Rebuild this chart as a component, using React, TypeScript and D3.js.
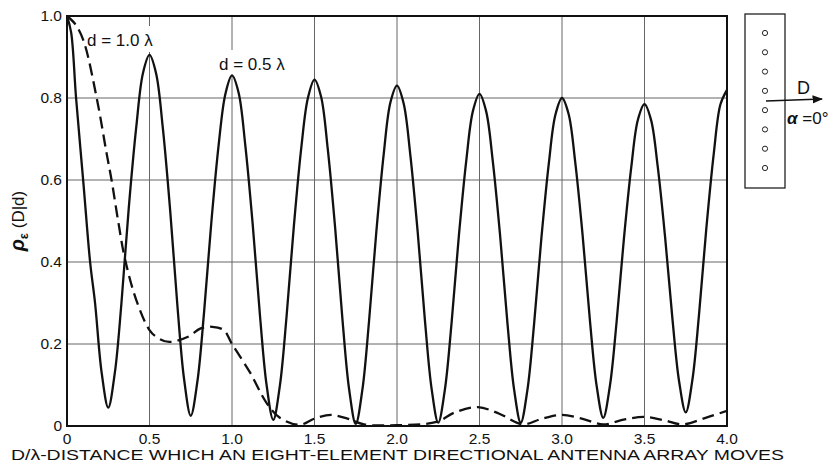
import React from 'react';
import * as d3 from 'd3';

// D/lambda positions and rho values
const solidD = [
  0, 0.025, 0.055, 0.1, 0.14, 0.17, 0.21, 0.25,
  0.29, 0.33, 0.375, 0.42, 0.46, 0.5,
  0.54, 0.58, 0.625, 0.67, 0.71, 0.75,
  0.79, 0.83, 0.875, 0.92, 0.96, 1.0,
  1.04, 1.08, 1.125, 1.17, 1.21, 1.25,
  1.29, 1.33, 1.375, 1.42, 1.46, 1.5,
  1.54, 1.58, 1.625, 1.67, 1.71, 1.75,
  1.79, 1.83, 1.875, 1.92, 1.96, 2.0,
  2.04, 2.08, 2.125, 2.17, 2.21, 2.25,
  2.29, 2.33, 2.375, 2.42, 2.46, 2.5,
  2.54, 2.58, 2.625, 2.67, 2.71, 2.75,
  2.79, 2.83, 2.875, 2.92, 2.96, 3.0,
  3.04, 3.08, 3.125, 3.17, 3.21, 3.25,
  3.29, 3.33, 3.375, 3.42, 3.46, 3.5,
  3.54, 3.58, 3.625, 3.67, 3.71, 3.75,
  3.79, 3.83, 3.875, 3.92, 3.96, 4.0,
];
const solidRho = [
  1.0, 0.96, 0.8, 0.59, 0.4, 0.3, 0.13, 0.045,
  0.13, 0.3, 0.535, 0.73, 0.86, 0.905,
  0.86, 0.73, 0.527, 0.289, 0.113, 0.025,
  0.108, 0.274, 0.498, 0.689, 0.81, 0.855,
  0.813, 0.687, 0.494, 0.267, 0.099, 0.015,
  0.098, 0.264, 0.488, 0.679, 0.8, 0.845,
  0.803, 0.677, 0.484, 0.257, 0.089, 0.005,
  0.088, 0.253, 0.475, 0.665, 0.789, 0.83,
  0.787, 0.664, 0.475, 0.254, 0.09, 0.008,
  0.088, 0.248, 0.464, 0.648, 0.768, 0.81,
  0.768, 0.648, 0.464, 0.248, 0.088, 0.008,
  0.087, 0.245, 0.458, 0.64, 0.759, 0.8,
  0.761, 0.644, 0.465, 0.254, 0.098, 0.02,
  0.097, 0.25, 0.456, 0.632, 0.747, 0.785,
  0.746, 0.633, 0.46, 0.258, 0.108, 0.033,
  0.112, 0.27, 0.483, 0.665, 0.784, 0.82,
];

const dashedD = [
  0, 0.05, 0.1, 0.18, 0.24, 0.27, 0.31, 0.35, 0.42, 0.5, 0.55, 0.62, 0.73,
  0.81, 0.88, 0.95, 1.0, 1.11, 1.21, 1.29, 1.41, 1.5, 1.6, 1.7, 1.8, 2.0,
  2.24, 2.35, 2.49, 2.62, 2.76, 2.88, 3.0, 3.12, 3.25, 3.38, 3.5, 3.62,
  3.73, 3.87, 4.0,
];
const dashedRho = [
  1.0, 0.98, 0.94, 0.8, 0.665, 0.6, 0.5, 0.41, 0.307, 0.234, 0.215, 0.205, 0.217,
  0.238, 0.242, 0.234, 0.2, 0.13, 0.056, 0.02, 0.003, 0.018, 0.027, 0.018, 0.004, 0.002,
  0.01, 0.033, 0.046, 0.03, 0.004, 0.018, 0.027, 0.018, 0.004, 0.016, 0.022, 0.014,
  0.004, 0.02, 0.037,
];

const xTicks = [0, 0.5, 1.0, 1.5, 2.0, 2.5, 3.0, 3.5, 4.0];
const xTickLabels = ['0', '0.5', '1.0', '1.5', '2.0', '2.5', '3.0', '3.5', '4.0'];
const yTicks = [0, 0.2, 0.4, 0.6, 0.8, 1.0];
const yTickLabels = ['0', '0.2', '0.4', '0.6', '0.8', '1.0'];
const elements = [1, 2, 3, 4, 5, 6, 7, 8];

export default function App() {
  const W = 839;
  const H = 467;
  const left = 67, right = 727, top = 16, bottom = 426;
  const font = '"Liberation Sans", Arial, sans-serif';

  const x = d3.scaleLinear().domain([0, 4]).range([left, right]);
  const y = d3.scaleLinear().domain([0, 1]).range([bottom, top]);

  const line = d3.line<[number, number]>()
    .x(d => x(d[0]))
    .y(d => y(d[1]))
    .curve(d3.curveCatmullRom.alpha(0.5));

  const solidPts = solidD.map((d, i) => [d, solidRho[i]] as [number, number]);
  const dashedPts = dashedD.map((d, i) => [d, dashedRho[i]] as [number, number]);

  // inset: element column
  const boxX = 745, boxY = 14, boxW = 40, boxH = 174;
  const elY = d3.scalePoint<number>().domain(elements).range([33, 168]);

  return (
    <svg width={W} height={H} style={{ position: 'absolute', left: 0, top: 0, background: '#fff' }}
      fontFamily={font}>
      <defs>
        <clipPath id="plot-clip">
          <rect x={left} y={top - 2} width={right - left} height={bottom - top + 2} />
        </clipPath>
        <marker id="arrow" viewBox="0 0 10 10" refX="9" refY="5" markerWidth="7" markerHeight="7" orient="auto">
          <path d="M0,1 L10,5 L0,9 Z" fill="#111" />
        </marker>
      </defs>

      {/* grid */}
      <g stroke="#666" strokeWidth={1}>
        {xTicks.slice(1, -1).map(t => (
          <line key={'gx' + t} x1={x(t)} x2={x(t)} y1={top} y2={bottom} />
        ))}
        {yTicks.slice(1, -1).map(t => (
          <line key={'gy' + t} x1={left} x2={right} y1={y(t)} y2={y(t)} />
        ))}
      </g>

      {/* annotation backgrounds */}
      <rect x={84} y={26} width={76} height={26} fill="#fff" />
      <rect x={216} y={50} width={80} height={26} fill="#fff" />

      {/* curves */}
      <g clipPath="url(#plot-clip)" fill="none" stroke="#111" strokeLinejoin="round">
        <path d={line(dashedPts) || ''} strokeWidth={2.3} strokeDasharray="12 6" />
        <path d={line(solidPts) || ''} strokeWidth={2.3} />
      </g>

      {/* frame */}
      <rect x={left} y={top} width={right - left} height={bottom - top} fill="none" stroke="#111" strokeWidth={2} />

      {/* y ticks */}
      <g fontSize={15.5} fill="#111" textAnchor="end">
        {yTicks.map((t, i) => (
          <text key={'yt' + t} x={left - 5} y={y(t) + 5}>{yTickLabels[i]}</text>
        ))}
      </g>
      {/* x ticks */}
      <g fontSize={15.5} fill="#111" textAnchor="middle">
        {xTicks.map((t, i) => (
          <text key={'xt' + t} x={x(t)} y={bottom + 18}>{xTickLabels[i]}</text>
        ))}
      </g>

      {/* axis titles */}
      <text x={11} y={460} fontSize={15} fill="#111" textLength={773} lengthAdjust="spacingAndGlyphs">
        D/λ-DISTANCE WHICH AN EIGHT-ELEMENT DIRECTIONAL ANTENNA ARRAY MOVES
      </text>
      <text transform="translate(24,221) rotate(-90)" textAnchor="middle" fontSize={17} fill="#111">
        <tspan fontWeight="bold" fontStyle="italic" fontSize={20}>ρ</tspan>
        <tspan fontWeight="bold" fontSize={13} dy={4}>ε</tspan>
        <tspan dy={-4}> (D|d)</tspan>
      </text>

      {/* curve labels */}
      <text x={87} y={46} fontSize={17} fill="#111">d = 1.0 λ</text>
      <text x={219} y={70} fontSize={17} fill="#111">d = 0.5 λ</text>

      {/* inset */}
      <rect x={boxX} y={boxY} width={boxW} height={boxH} fill="none" stroke="#222" strokeWidth={1.3} />
      {elements.map(e => (
        <circle key={'el' + e} cx={765} cy={elY(e)} r={2.6} fill="none" stroke="#222" strokeWidth={1} />
      ))}
      <line x1={766} y1={101} x2={822} y2={99} stroke="#111" strokeWidth={1.5} markerEnd="url(#arrow)" />
      <text x={797} y={94} fontSize={18} fill="#111">D</text>
      <text x={787} y={124} fontSize={17} fill="#111">
        <tspan fontWeight="bold" fontStyle="italic">α</tspan>
        <tspan> =0°</tspan>
      </text>
    </svg>
  );
}
